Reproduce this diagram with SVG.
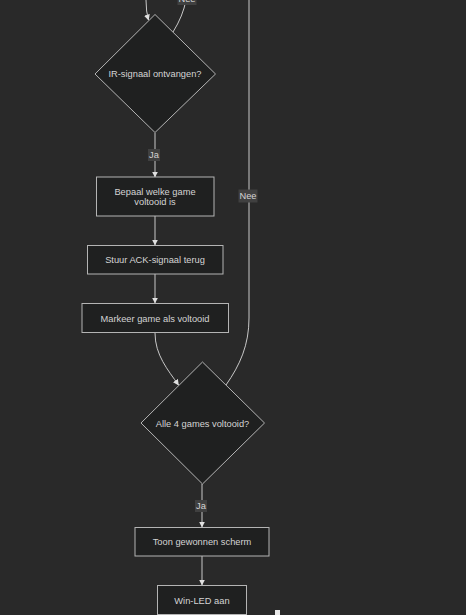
<svg xmlns="http://www.w3.org/2000/svg" width="466" height="615" viewBox="0 0 466 615">
<style>
.node rect,.node polygon{fill:#1f2020;stroke:#b4b4b4;stroke-width:1}
.edge{fill:none;stroke:#c8c8c8;stroke-width:1}
text{font-family:"Liberation Sans",Arial,sans-serif;font-size:9.3px;fill:#d4d4d4;text-anchor:middle;dominant-baseline:central}
.lbl rect{fill:#404040}
</style>
<defs>
<marker id="arr" viewBox="0 0 10 10" refX="9" refY="5" markerWidth="6" markerHeight="6" orient="auto" markerUnits="userSpaceOnUse">
<path d="M0,0 L10,5 L0,10 z" fill="#e0e0e0"/>
</marker>
</defs>
<rect width="466" height="615" fill="#292929"/>
<g id="connectors">
<path class="edge" d="M146,0 Q146,12 148.5,20" marker-end="url(#arr)"/>
<path class="edge" d="M173,32 Q183,16 186,0"/>
<path class="edge" d="M155,133 L155,177" marker-end="url(#arr)"/>
<path class="edge" d="M155,216 L155,245" marker-end="url(#arr)"/>
<path class="edge" d="M155,274 L155,303" marker-end="url(#arr)"/>
<path class="edge" d="M155,333 C155,355 168,370 178.5,385" marker-end="url(#arr)"/>
<path class="edge" d="M226,385 C240,365 249,345 249,318 L249,0"/>
<path class="edge" d="M202,484 L202,527" marker-end="url(#arr)"/>
<path class="edge" d="M202,556 L202,585" marker-end="url(#arr)"/>
<g class="lbl"><rect x="177.5" y="-8" width="19" height="13"/><text x="187" y="-1.5">Nee</text></g>
<g class="lbl"><rect x="148" y="149" width="12" height="12"/><text x="154" y="155">Ja</text></g>
<g class="lbl"><rect x="238.5" y="189.5" width="19" height="13"/><text x="248" y="196">Nee</text></g>
<g class="lbl"><rect x="195" y="500" width="12" height="12"/><text x="201" y="506">Ja</text></g>
</g>
<g id="ir" class="node"><polygon points="155,14.5 215.5,74 155,132.5 95,74"/><text x="155" y="74">IR-signaal ontvangen?</text></g>
<g id="bepaal" class="node"><rect x="96.5" y="177" width="117.5" height="39"/><text x="155" y="191.5">Bepaal welke game</text><text x="155" y="202">voltooid is</text></g>
<g id="stuur" class="node"><rect x="87.5" y="245.5" width="135.5" height="28.5"/><text x="155" y="260">Stuur ACK-signaal terug</text></g>
<g id="markeer" class="node"><rect x="82" y="303.5" width="146.5" height="29"/><text x="155" y="318.5">Markeer game als voltooid</text></g>
<g id="alle" class="node"><polygon points="202.5,362 264.5,423 202.5,484 141,423"/><text x="202.5" y="423.5">Alle 4 games voltooid?</text></g>
<g id="toon" class="node"><rect x="135" y="527.5" width="134" height="28.5"/><text x="202" y="542">Toon gewonnen scherm</text></g>
<g id="win" class="node"><rect x="157.5" y="585.5" width="89" height="29"/><text x="202" y="600.5">Win-LED aan</text></g>
<rect x="275" y="610" width="5" height="5" fill="#e8e8e8"/>
</svg>
